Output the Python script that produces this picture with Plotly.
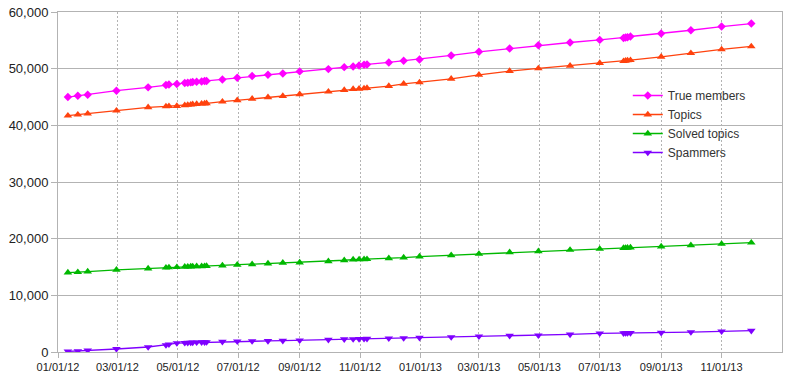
import plotly.graph_objects as go

dates = [
    "2012-01-11", "2012-01-21", "2012-01-31", "2012-02-29", "2012-04-01", "2012-04-19", "2012-04-22",
    "2012-04-30", "2012-05-08", "2012-05-11", "2012-05-14", "2012-05-16", "2012-05-20", "2012-05-25",
    "2012-05-28", "2012-05-30", "2012-06-15", "2012-06-30", "2012-07-15", "2012-07-31",
    "2012-08-15", "2012-09-01", "2012-09-30", "2012-10-16", "2012-10-25", "2012-10-31", "2012-11-05",
    "2012-11-08", "2012-11-30", "2012-12-15", "2012-12-31", "2013-02-01", "2013-03-01", "2013-04-01",
    "2013-04-30", "2013-06-01", "2013-07-01", "2013-07-25", "2013-07-27", "2013-07-29", "2013-08-01",
    "2013-09-01", "2013-10-01", "2013-11-01", "2013-12-01",
]

true_members = [
    44990, 45230, 45400, 46110, 46700, 47120, 47200, 47280, 47460, 47520, 47580, 47630, 47690, 47750,
    47810, 47830, 48100, 48400, 48690, 48920,
    49160, 49520, 49920, 50270, 50400, 50570, 50680, 50750, 51100, 51380, 51630, 52330, 52970, 53560,
    54140, 54620, 55080, 55430, 55500, 55550, 55680, 56200, 56780, 57430, 57960,
]

topics = [
    41700, 41880, 42060, 42580, 43180, 43340, 43380, 43410, 43530, 43590, 43640, 43710, 43760, 43810,
    43850, 43880, 44170, 44410, 44690, 44940,
    45170, 45470, 45930, 46230, 46400, 46450, 46520, 46580, 46930, 47330, 47580, 48210, 48920, 49570,
    50040, 50500, 50980, 51330, 51380, 51450, 51500, 52090, 52740, 53390, 53920,
]

solved_topics = [
    14020, 14080, 14200, 14500, 14730, 14880, 14920, 14960, 15030, 15050, 15080, 15100, 15120, 15130,
    15150, 15160, 15260, 15380, 15480, 15610,
    15730, 15780, 16010, 16190, 16310, 16340, 16360, 16380, 16540, 16660, 16840, 17070, 17310, 17600,
    17770, 18020, 18190, 18340, 18360, 18380, 18420, 18600, 18830, 19070, 19300,
]

spammers = [
    100, 170, 280, 530, 880, 1230, 1350, 1580, 1620, 1640, 1660, 1680, 1700, 1720,
    1740, 1760, 1820, 1880, 1920, 1950,
    2000, 2060, 2180, 2250, 2280, 2300, 2320, 2340, 2410, 2460, 2520, 2640, 2760, 2870,
    2940, 3110, 3290, 3330, 3340, 3350, 3360, 3410, 3520, 3640, 3760,
]

x_tick_dates = [
    "2012-01-01", "2012-03-01", "2012-05-01", "2012-07-01", "2012-09-01", "2012-11-01",
    "2013-01-01", "2013-03-01", "2013-05-01", "2013-07-01", "2013-09-01", "2013-11-01",
]
x_tick_labels = [
    "01/01/12", "03/01/12", "05/01/12", "07/01/12", "09/01/12", "11/01/12",
    "01/01/13", "03/01/13", "05/01/13", "07/01/13", "09/01/13", "11/01/13",
]
y_tick_vals = [0, 10000, 20000, 30000, 40000, 50000, 60000]

series = [
    ("True members", true_members, "#ff00ff", "diamond", 6.5),
    ("Topics", topics, "#ff420e", "triangle-up", 7.5),
    ("Solved topics", solved_topics, "#00b800", "triangle-up", 7.5),
    ("Spammers", spammers, "#7f00ff", "triangle-down", 7.5),
]

fig = go.Figure()
for name, vals, color, sym, size in series:
    fig.add_trace(go.Scatter(
        x=dates, y=vals, name=name, mode="lines+markers",
        line=dict(color=color, width=1.3),
        marker=dict(symbol=sym, size=size, color=color),
    ))

grid = "#b3b3b3"
fig.update_layout(
    width=790, height=378,
    margin=dict(l=58, r=8, t=12, b=26, autoexpand=False),
    paper_bgcolor="white", plot_bgcolor="white",
    font=dict(family="Liberation Sans", size=12, color="#222222"),
    showlegend=True,
    legend=dict(x=0.787, y=0.797, xanchor="left", yanchor="top",
                bgcolor="rgba(0,0,0,0)", borderwidth=0,
                font=dict(size=12, color="#333333"), tracegroupgap=0),
    xaxis=dict(
        type="date", range=["2012-01-01", "2014-01-01"], automargin=False,
        tickmode="array", tickvals=x_tick_dates, ticktext=x_tick_labels,
        tickfont=dict(size=11, color="#222222"),
        showgrid=True, gridcolor=grid, griddash="2px,2px", gridwidth=1,
        showline=True, linecolor=grid, linewidth=1, mirror=True,
        ticks="outside", ticklen=5, tickcolor=grid,
        zeroline=False,
    ),
    yaxis=dict(
        range=[0, 60000], tickmode="array", tickvals=y_tick_vals, automargin=False,
        tickformat=",", tickfont=dict(size=13, color="#222222"),
        showgrid=True, gridcolor=grid, gridwidth=1,
        showline=True, linecolor=grid, linewidth=1, mirror=True,
        ticks="outside", ticklen=6, tickcolor=grid,
        zeroline=False,
    ),
)

fig.write_html("out.html", config={"displayModeBar": False},
               post_script="document.body.style.margin='0px';")
